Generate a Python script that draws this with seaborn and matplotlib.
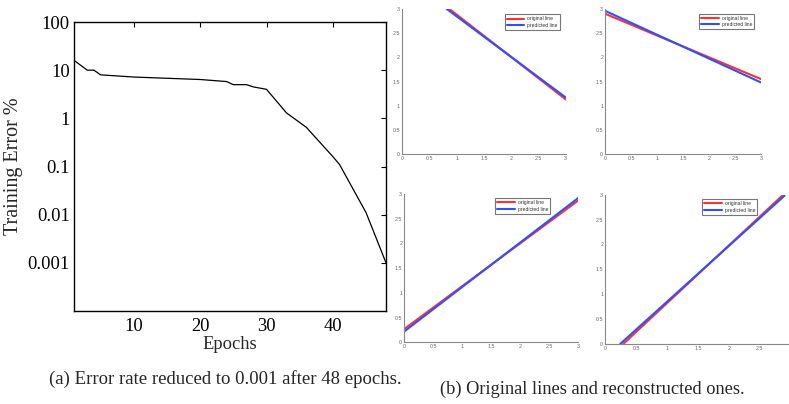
import matplotlib
matplotlib.use("Agg")
import matplotlib.pyplot as plt
import seaborn as sns

# ---- data: left panel (training error) ----
epochs = [1, 3, 4, 5, 10, 20, 24, 25, 27, 28, 30, 33, 36, 40, 41, 45, 48]
train_error = [16, 10, 10, 8, 7.2, 6.4, 5.8, 5.0, 5.0, 4.5, 4.0, 1.3, 0.65, 0.16, 0.11, 0.011, 0.001]
err_ticks = [100, 10, 1, 0.1, 0.01, 0.001]
err_tick_labels = ["100", "10", "1", "0.1", "0.01", "0.001"]
epoch_ticks = [10, 20, 30, 40]

# ---- data: right panels (original vs predicted lines, endpoints) ----
p1_orig_x, p1_orig_y = [0.87, 3.0], [3.0, 1.13]
p1_pred_x, p1_pred_y = [0.82, 3.0], [3.0, 1.17]
p2_orig_x, p2_orig_y = [0.0, 3.0], [2.90, 1.55]
p2_pred_x, p2_pred_y = [0.0, 3.0], [2.96, 1.48]
p3_orig_x, p3_orig_y = [0.0, 3.0], [0.27, 2.87]
p3_pred_x, p3_pred_y = [0.0, 3.0], [0.22, 2.92]
p4_orig_x, p4_orig_y = [0.29, 2.88], [0.0, 3.0]
p4_pred_x, p4_pred_y = [0.24, 2.90], [0.0, 2.98]
small_ticks = [0, 0.5, 1, 1.5, 2, 2.5, 3]
small_tick_labels = ["0", "0.5", "1", "1.5", "2", "2.5", "3"]
legend_labels = ["original line", "predicted line"]
caption_a = "(a) Error rate reduced to 0.001 after 48 epochs."
caption_b = "(b) Original lines and reconstructed ones."

sns.set_theme(style="white")
plt.rcParams["font.family"] = ["Liberation Serif", "DejaVu Serif"]

W, H = 789, 404
fig = plt.figure(figsize=(W / 100, H / 100), dpi=100)
fig.patch.set_facecolor("white")

def px_axes(x0, x1, ytop, ybot):
    return fig.add_axes([x0 / W, (H - ybot) / H, (x1 - x0) / W, (ybot - ytop) / H])

FS = 13.3

# ---------- left panel ----------
ax = px_axes(74, 386, 22, 311)
sns.lineplot(x=epochs, y=train_error, ax=ax, color="black", linewidth=0.9)
ax.set_yscale("log")
ax.set_ylim(1e-4, 100)
ax.set_xlim(1, 48)
ax.set_yticks(err_ticks)
ax.set_yticklabels(err_tick_labels)
ax.minorticks_off()
ax.set_xticks(epoch_ticks)
ax.set_xticklabels([str(t) for t in epoch_ticks])
ax.tick_params(direction="in", top=True, right=True, length=3.5, width=0.8,
               labelsize=FS, colors="black")
ax.tick_params(axis="y", pad=3)
ax.tick_params(axis="x", pad=5)
for s in ax.spines.values():
    s.set_color("black")
    s.set_linewidth(1.0)
ax.set_xlabel("Epochs", fontsize=FS, va="center")
ax.xaxis.set_label_coords(0.5, (311 - 344.3) / 289)
ax.set_ylabel("Training Error %", fontsize=14.5, va="center", rotation=90)
ax.yaxis.set_label_coords((13.3 - 74) / 312, 0.5)
ax.grid(False)

ta = fig.text(225 / W, 1 - 379 / H, caption_a, ha="center", va="center", fontsize=FS)
tb = fig.text(592.5 / W, 1 - 389 / H, caption_b, ha="center", va="center", fontsize=FS)

# ---------- right panels ----------
panels = [
    ((402, 565.7, 9, 154), small_ticks, (p1_orig_x, p1_orig_y, p1_pred_x, p1_pred_y), (0.978, 0.981)),
    ((605.3, 761, 9, 154), small_ticks, (p2_orig_x, p2_orig_y, p2_pred_x, p2_pred_y), (0.974, 0.986)),
    ((404.3, 578.3, 194, 342.3), small_ticks, (p3_orig_x, p3_orig_y, p3_pred_x, p3_pred_y), (0.853, 0.989)),
    ((605.3, 790.7, 194.7, 344), small_ticks[:-1], (p4_orig_x, p4_orig_y, p4_pred_x, p4_pred_y), (0.834, 0.987)),
]
gray = "#666666"
for (x0, x1, yt, yb), xt, (ox, oy, qx, qy), anchor in panels:
    a = px_axes(x0, x1, yt, yb)
    sns.lineplot(x=ox, y=oy, ax=a, color="#ff3030", linewidth=1.5, label=legend_labels[0])
    sns.lineplot(x=qx, y=qy, ax=a, color="#3050ff", linewidth=1.5, label=legend_labels[1])
    a.set_xlim(0, 3)
    a.set_ylim(0, 3)
    a.set_xticks(xt)
    a.set_xticklabels(small_tick_labels[:len(xt)])
    a.set_yticks(small_ticks)
    a.set_yticklabels(small_tick_labels)
    a.tick_params(direction="in", length=2, width=0.6, labelsize=3.8,
                  colors=gray, pad=1.5)
    for side in ("top", "right"):
        a.spines[side].set_visible(False)
    for side in ("left", "bottom"):
        a.spines[side].set_color("#888888")
        a.spines[side].set_linewidth(0.8)
    for lab in a.get_xticklabels() + a.get_yticklabels():
        lab.set_family(["Liberation Sans", "DejaVu Sans"])
    leg = a.legend(loc="upper right", bbox_to_anchor=anchor,
                   frameon=True, fancybox=False, handlelength=3.5,
                   borderpad=0.4, labelspacing=0.3, handletextpad=0.6,
                   prop={"family": ["Liberation Sans", "DejaVu Sans"], "size": 3.6})
    leg.get_frame().set_edgecolor("#555555")
    leg.get_frame().set_linewidth(0.8)
    for t in leg.get_texts():
        t.set_color("#333333")
    a.grid(False)

# fit caption widths to the measured widths in the reference
fig.canvas.draw()
r = fig.canvas.get_renderer()
for t, target in ((ta, 354.0), (tb, 305.0)):
    w = t.get_window_extent(renderer=r).width
    t.set_fontsize(FS * target / w)

fig.savefig("out.png", dpi=100)
